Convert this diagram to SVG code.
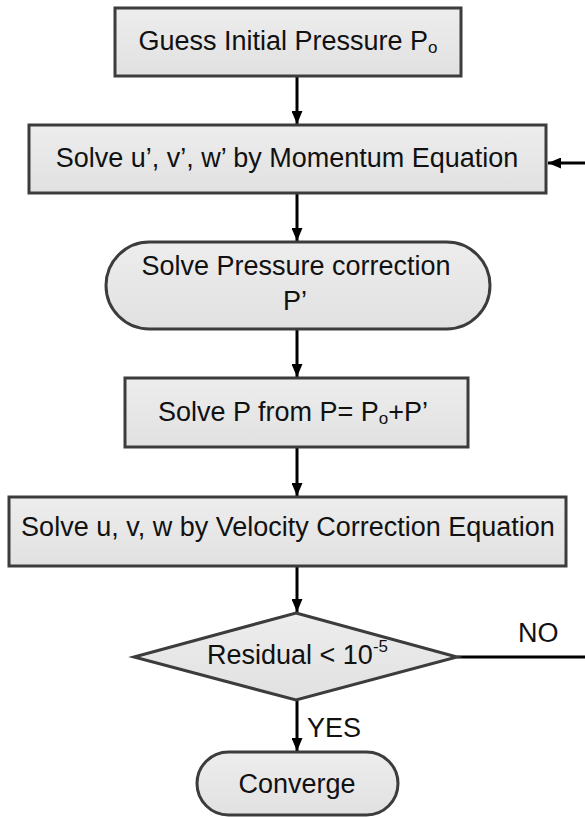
<svg xmlns="http://www.w3.org/2000/svg" width="585" height="817" viewBox="0 0 585 817">
  <defs>
    <linearGradient id="fillGrad" x1="0" y1="0" x2="0" y2="1">
      <stop offset="0" stop-color="#ededed"/>
      <stop offset="1" stop-color="#e1e1e1"/>
    </linearGradient>
    <marker id="arrow" viewBox="0 0 13 11" refX="13" refY="5.5" markerWidth="13" markerHeight="11" markerUnits="userSpaceOnUse" orient="auto">
      <path d="M0,0 L13,5.5 L0,11 z" fill="#000"/>
    </marker>
  </defs>
  <style>
    .shape { fill: url(#fillGrad); stroke: #3c3c3c; stroke-width: 3; }
    .lbl { font-family: "Liberation Sans", Arial, sans-serif; font-size: 27px; fill: #111; }
    .mid { text-anchor: middle; }
    .conn { stroke: #000; stroke-width: 3; fill: none; }
    .arr { marker-end: url(#arrow); }
  </style>

  <g id="connectors">
    <line class="conn arr" x1="297" y1="76" x2="297" y2="124"/>
    <line class="conn arr" x1="585" y1="163" x2="548" y2="163"/>
    <line class="conn arr" x1="297" y1="193" x2="297" y2="241"/>
    <line class="conn arr" x1="297" y1="329" x2="297" y2="377"/>
    <line class="conn arr" x1="297" y1="447" x2="297" y2="496"/>
    <line class="conn arr" x1="297" y1="566" x2="297" y2="612"/>
    <line class="conn" x1="457" y1="657" x2="585" y2="657"/>
    <line class="conn arr" x1="297" y1="700" x2="297" y2="751"/>
    <text class="lbl" x="518" y="642">NO</text>
    <text class="lbl" x="307" y="737">YES</text>
  </g>

  <g id="node-guess">
    <rect class="shape" x="115" y="8" width="346" height="68"/>
    <text class="lbl mid" x="288" y="50">Guess Initial Pressure P<tspan font-size="17" dy="3">o</tspan></text>
  </g>

  <g id="node-momentum">
    <rect class="shape" x="29" y="125" width="517" height="68"/>
    <text class="lbl mid" x="287" y="167">Solve u’, v’, w’ by Momentum Equation</text>
  </g>

  <g id="node-pressure-correction">
    <rect class="shape" x="106" y="242" width="384" height="87" rx="43.5" ry="43.5"/>
    <text class="lbl mid" x="296" y="275">Solve Pressure correction</text>
    <text class="lbl mid" x="295" y="310">P’</text>
  </g>

  <g id="node-solve-p">
    <rect class="shape" x="125" y="378" width="343" height="69"/>
    <text class="lbl mid" x="293" y="421">Solve P from P= P<tspan font-size="17" dy="3">o</tspan><tspan dy="-3">+P’</tspan></text>
  </g>

  <g id="node-velocity">
    <rect class="shape" x="9" y="497" width="557" height="69"/>
    <text class="lbl mid" x="288" y="536">Solve u, v, w by Velocity Correction Equation</text>
  </g>

  <g id="node-residual">
    <polygon class="shape" points="296,613 457,657 296,700 134,657"/>
    <text class="lbl" x="207" y="664">Residual &lt; 10<tspan font-size="17" dy="-12">-5</tspan></text>
  </g>

  <g id="node-converge">
    <rect class="shape" x="197" y="752" width="201" height="63" rx="31.5" ry="31.5"/>
    <text class="lbl mid" x="297" y="793">Converge</text>
  </g>
</svg>
